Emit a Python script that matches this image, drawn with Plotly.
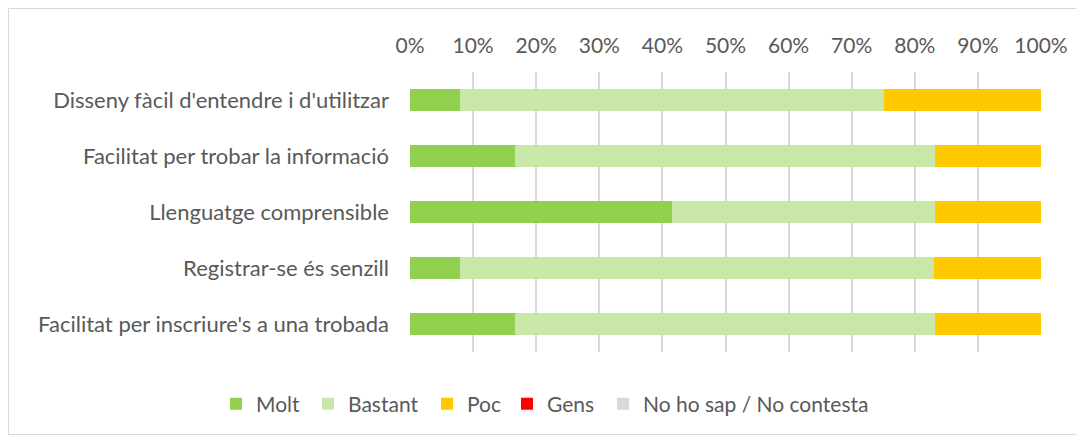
import plotly.graph_objects as go

categories = ["Disseny fàcil d'entendre i d'utilitzar",
              "Facilitat per trobar la informació",
              "Llenguatge comprensible",
              "Registrar-se és senzill",
              "Facilitat per inscriure's a una trobada"]
series_names = ["Molt", "Bastant", "Poc", "Gens", "No ho sap / No contesta"]
molt = [8.0, 16.7, 41.5, 8.0, 16.7]
bastant = [67.1, 66.5, 41.7, 75.0, 66.5]
poc = [24.9, 16.8, 16.8, 17.0, 16.8]
gens = [0, 0, 0, 0, 0]
no_sap = [0, 0, 0, 0, 0]
tick_vals = [0, 10, 20, 30, 40, 50, 60, 70, 80, 90, 100]
tick_text = [f"{v}%" for v in tick_vals]
colors = ["#92D050", "#C9E7A7", "#FFC900", "#FF0000", "#D9D9D9"]

OFF = 8  # page body margin
W, H = 1084 - OFF, 436 - OFF
L, R, T, B = 410 - OFF, 43, 72 - OFF, 84
pw, ph = W - L - R, H - T - B

# page x positions where each legend text starts
legend_text_x = [257, 349, 468, 548, 644]
legend_y = 404

fig = go.Figure()
legend_names = ["legend", "legend2", "legend3", "legend4", "legend5"]
for name, vals, col, lg in zip(series_names, [molt, bastant, poc, gens, no_sap],
                               colors, legend_names):
    fig.add_trace(go.Bar(y=categories, x=vals, name=name, orientation="h",
                         legend=lg, marker=dict(color=col, line=dict(width=0))))

font = dict(family="Lato, 'Open Sans', sans-serif", size=22, color="#595959")
fig.update_layout(
    width=W, height=H, barmode="stack", bargap=0.6,
    margin=dict(l=L, r=R, t=T, b=B, autoexpand=False),
    paper_bgcolor="white", plot_bgcolor="white", font=font,
    xaxis=dict(side="top", range=[0, 100], tickvals=tick_vals, ticktext=tick_text,
               showgrid=True, gridcolor="#D9D9D9", gridwidth=1.5, zeroline=False,
               showline=False, ticks="", ticklabelstandoff=14, fixedrange=True,
               automargin=False, tickfont=dict(size=21)),
    yaxis=dict(autorange="reversed", showgrid=False, showline=False, ticks="",
               ticklabelstandoff=20, fixedrange=True, automargin=False),
    showlegend=True,
)
for lg, tx in zip(legend_names, legend_text_x):
    fig.update_layout({lg: dict(orientation="h", xref="container", yref="container",
                                x=(tx - 41 - OFF) / W, xanchor="left",
                                y=1 - (legend_y - OFF) / H, yanchor="middle",
                                font=dict(size=21, color="#595959"),
                                bgcolor="rgba(0,0,0,0)", borderwidth=0)})
fig.add_shape(type="rect", xref="paper", yref="paper",
              x0=-(L - 0.5) / pw, x1=1 + (R - 1.5) / pw,
              y0=-(B - 1.5) / ph, y1=1 + (T - 0.5) / ph,
              line=dict(color="#D9D9D9", width=1), layer="below")
fig.write_html("out.html")
